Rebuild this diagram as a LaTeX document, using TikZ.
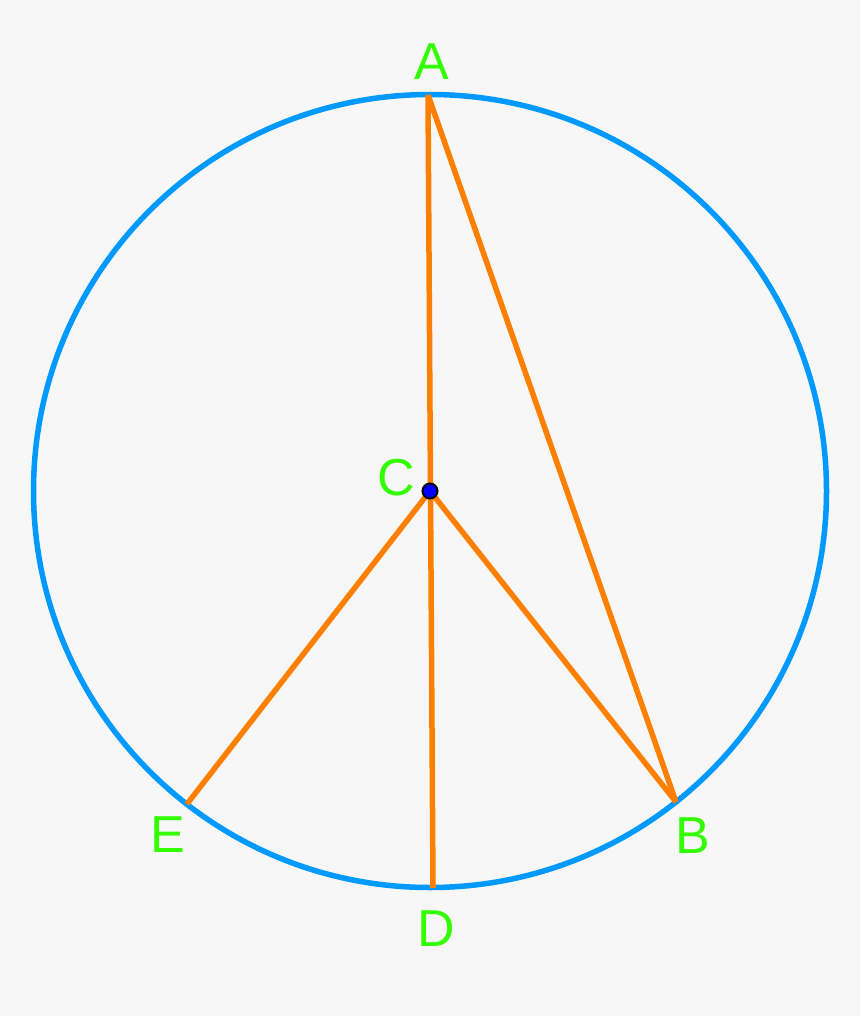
\documentclass[tikz,border=0pt]{standalone}
\usepackage{fontspec}
\setmainfont{Liberation Sans}
\begin{document}
\begin{tikzpicture}[x=1pt,y=-1pt,
  seg/.style={draw=orangeline,line width=5.5pt},
  lbl/.style={text=labelgreen,font=\fontsize{52}{60}\selectfont,inner sep=0pt}]
\definecolor{bgc}{HTML}{F7F7F7}
\definecolor{circblue}{HTML}{0099FF}
\definecolor{orangeline}{HTML}{FF8000}
\definecolor{labelgreen}{HTML}{33FF00}
\fill[bgc] (0,0) rectangle (860,1016);
\useasboundingbox (0,0) rectangle (860,1016);
\coordinate (C) at (430,491);
\coordinate (A) at (428,95);
\coordinate (B) at (676,802);
\coordinate (D) at (433,888);
\coordinate (E) at (187,804);
\draw[circblue,line width=5.5pt] (C) circle (396.5);
\draw[seg] (A) -- (D);
\draw[seg] (A) -- (B);
\draw[seg] (C) -- (B);
\draw[seg] (C) -- (E);
\node[circle,fill=blue,draw=black,line width=2pt,minimum size=15pt,inner sep=0pt] (Cdot) at (C) {};
\node[lbl] (la) at (432,62) {A};
\node[lbl] (lc) at (396,478) {C};
\node[lbl] (lb) at (693,836) {B};
\node[lbl] (ld) at (436,929) {D};
\node[lbl] (le) at (168,835) {E};
\end{tikzpicture}
\end{document}
